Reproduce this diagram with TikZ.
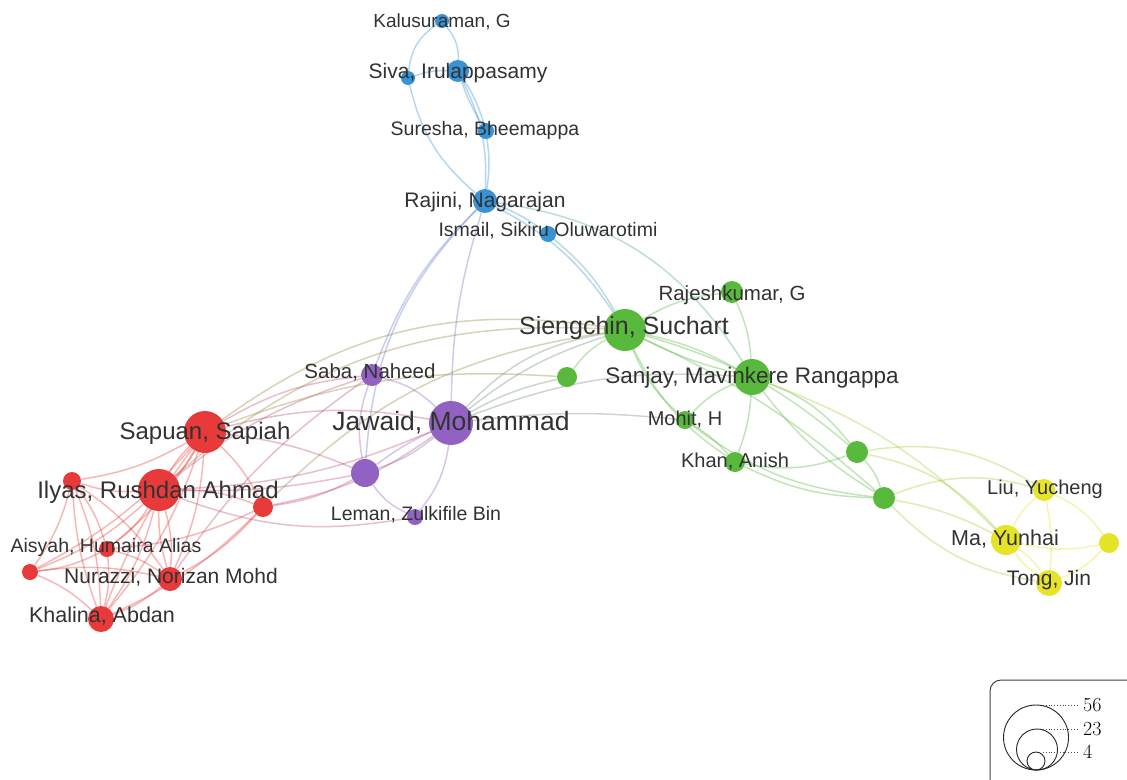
\documentclass[tikz,border=0pt]{standalone}
\usepackage{fontspec}
\newfontfamily\labfont{Liberation Sans}
\pgfdeclarelayer{bg}
\pgfdeclarelayer{edges}
\pgfsetlayers{bg,edges,main}
\definecolor{cred}{RGB}{232,58,58}
\definecolor{cgreen}{RGB}{88,185,60}
\definecolor{cblue}{RGB}{55,146,214}
\definecolor{cpurple}{RGB}{146,98,194}
\definecolor{cyellow}{RGB}{230,228,40}
\definecolor{ctext}{RGB}{50,50,50}
\colorlet{cpink}{cred!55!cpurple}
\colorlet{cteal}{cblue!50!cgreen}
\colorlet{cpg}{cpurple!50!cgreen}
\colorlet{crg}{cred!40!cgreen}
\colorlet{cbp}{cblue!50!cpurple}
\colorlet{cgy}{cgreen!50!cyellow}
\begin{document}
\begin{tikzpicture}[x=1pt,y=-1pt,
  nd/.style={circle,fill=#1,draw=none,inner sep=0pt},
  edge/.style={line width=1.5pt,draw=#1,draw opacity=0.36},
  lab/.style={inner sep=0pt,text=ctext,anchor=base},
  fs/.style={font=\labfont\fontsize{#1}{#1}\selectfont,yshift={-0.358*#1}},
  legcirc/.style={draw=black!85,line width=0.9pt},
  legdot/.style={draw=black!70,line width=0.8pt,dotted},
  legnum/.style={inner sep=0pt,anchor=west,font=\fontsize{20}{20}\selectfont}]
\useasboundingbox (0,0) rectangle (1127,779);
\begin{pgfonlayer}{bg}
\fill[white] (0,0) rectangle (1127,779);
\end{pgfonlayer}
% ---------- nodes ----------
% blue
\node[nd=cblue,minimum size=14] (kal) at (442,21) {};
\node[nd=cblue,minimum size=14] (siv) at (408,78) {};
\node[nd=cblue,minimum size=22] (iru) at (458,71) {};
\node[nd=cblue,minimum size=16] (sur) at (486,131) {};
\node[nd=cblue,minimum size=24] (raj) at (485,201) {};
\node[nd=cblue,minimum size=16] (ism) at (548,234) {};
% green
\node[nd=cgreen,minimum size=42] (sie) at (625,330) {};
\node[nd=cgreen,minimum size=22] (rjk) at (732,292) {};
\node[nd=cgreen,minimum size=20] (g1) at (567,377) {};
\node[nd=cgreen,minimum size=36] (san) at (752,377) {};
\node[nd=cgreen,minimum size=18] (moh) at (685,420) {};
\node[nd=cgreen,minimum size=20] (kan) at (735,462) {};
\node[nd=cgreen,minimum size=22] (g2) at (857,452) {};
\node[nd=cgreen,minimum size=22] (g3) at (884,498) {};
% yellow
\node[nd=cyellow,minimum size=22] (liu) at (1044,490) {};
\node[nd=cyellow,minimum size=30] (ma) at (1006,540) {};
\node[nd=cyellow,minimum size=26] (ton) at (1049,583) {};
\node[nd=cyellow,minimum size=20] (y4) at (1109,543) {};
% purple
\node[nd=cpurple,minimum size=22] (sab) at (372,375) {};
\node[nd=cpurple,minimum size=44] (jaw) at (451,423) {};
\node[nd=cpurple,minimum size=28] (p2) at (365,473) {};
\node[nd=cpurple,minimum size=16] (lem) at (415,517) {};
% red
\node[nd=cred,minimum size=42] (sap) at (205,432) {};
\node[nd=cred,minimum size=42] (ily) at (159,490) {};
\node[nd=cred,minimum size=18] (r1) at (72,481) {};
\node[nd=cred,minimum size=20] (r2) at (263,507) {};
\node[nd=cred,minimum size=16] (ais) at (107,549) {};
\node[nd=cred,minimum size=16] (r3) at (30,572) {};
\node[nd=cred,minimum size=24] (nur) at (170,579) {};
\node[nd=cred,minimum size=26] (kha) at (101,619) {};
% ---------- edges ----------
\begin{pgfonlayer}{edges}
% blue
\draw[edge=cblue] (kal) to[bend right=25] (siv);
\draw[edge=cblue] (kal) to[bend left=20] (iru);
\draw[edge=cblue] (siv) to[bend left=10] (iru);
\draw[edge=cblue] (siv) to[bend right=18] (raj);
\draw[edge=cblue] (iru) to[bend left=8] (sur);
\draw[edge=cblue] (iru) to[bend right=6] (sur);
\draw[edge=cblue] (iru) to[bend left=14] (raj);
\draw[edge=cblue] (sur) to[bend left=8] (raj);
\draw[edge=cblue] (raj) to[bend left=8] (ism);
\draw[edge=cblue] (raj) to[bend left=14] (sie);
\draw[edge=cteal] (ism) to[bend left=10] (sie);
\draw[edge=cbp] (raj) to[bend right=8] (jaw);
\draw[edge=cbp] (raj) to[bend right=12] (sab);
\draw[edge=cbp] (raj) to[bend right=20] (p2);
\draw[edge=cteal] (raj) to[bend left=25] (san);
% purple
\draw[edge=cpurple] (sab) to[bend left=15] (jaw);
\draw[edge=cpurple] (sab) to[bend right=15] (p2);
\draw[edge=cpurple] (jaw) to[bend left=10] (p2);
\draw[edge=cpurple] (jaw) to[bend right=6] (p2);
\draw[edge=cpurple] (jaw) to[bend left=15] (lem);
\draw[edge=cpurple] (p2) to[bend right=15] (lem);
\draw[edge=cpink] (sab) to[bend right=12] (sap);
\draw[edge=cpink] (sab) to[bend right=10] (ily);
\draw[edge=cpink] (sab) to[bend right=10] (nur);
\draw[edge=cpink] (jaw) to[bend right=12] (sap);
\draw[edge=cpink] (jaw) to[bend left=10] (ily);
\draw[edge=cpink] (jaw) to[bend left=12] (r2);
\draw[edge=cpink] (p2) to[bend right=8] (sap);
\draw[edge=cpink] (p2) to[bend left=6] (ily);
\draw[edge=cpink] (p2) to[bend left=10] (r2);
\draw[edge=cpink] (lem) to[bend left=15] (ily);
\draw[edge=cpg] (jaw) to[bend left=18] (sie);
\draw[edge=cpg] (jaw) to[bend left=10] (sie);
\draw[edge=cpg] (jaw) to[bend left=8] (g1);
\draw[edge=cpg] (jaw) to[bend left=12] (san);
\draw[edge=cpg] (jaw) to[bend left=6] (moh);
% red to green
\draw[edge=crg] (sap) to[bend left=22] (sie);
\draw[edge=crg] (ily) to[bend left=22] (sie);
\draw[edge=crg] (r2) to[bend left=18] (sie);
\draw[edge=crg] (sap) to[bend left=12] (g1);
% green
\draw[edge=cgreen] (sie) to[bend left=12] (rjk);
\draw[edge=cgreen] (sie) to[bend right=12] (g1);
\draw[edge=cgreen] (sie) to[bend left=8] (san);
\draw[edge=cgreen] (sie) to[bend right=6] (san);
\draw[edge=cgreen] (sie) to[bend right=12] (moh);
\draw[edge=cgreen] (sie) to[bend right=15] (kan);
\draw[edge=cgreen] (sie) to[bend left=12] (g2);
\draw[edge=cgreen] (sie) to[bend left=8] (g3);
\draw[edge=cgreen] (rjk) to[bend left=10] (san);
\draw[edge=cgreen] (san) to[bend right=12] (moh);
\draw[edge=cgreen] (san) to[bend left=8] (kan);
\draw[edge=cgreen] (san) to[bend left=15] (g2);
\draw[edge=cgreen] (san) to[bend right=10] (g3);
\draw[edge=cgreen] (moh) to[bend left=8] (kan);
\draw[edge=cgreen] (moh) to[bend right=15] (g3);
\draw[edge=cgreen] (kan) to[bend right=15] (g2);
\draw[edge=cgreen] (kan) to[bend right=12] (g3);
\draw[edge=cgreen] (g2) to[bend left=12] (g3);
\draw[edge=cgy] (g2) to[bend left=20] (liu);
\draw[edge=cgy] (g2) to[bend left=18] (ma);
\draw[edge=cgy] (g3) to[bend left=18] (liu);
\draw[edge=cgy] (g3) to[bend left=8] (ma);
\draw[edge=cgy] (g3) to[bend right=18] (ton);
\draw[edge=cgy] (san) to[bend left=12] (ma);
% yellow
\draw[edge=cyellow] (liu) to[bend right=10] (ma);
\draw[edge=cyellow] (liu) to[bend left=8] (ton);
\draw[edge=cyellow] (liu) to[bend left=15] (y4);
\draw[edge=cyellow] (ma) to[bend left=10] (ton);
\draw[edge=cyellow] (ma) to[bend right=10] (ton);
\draw[edge=cyellow] (ma) to[bend right=12] (y4);
\draw[edge=cyellow] (ton) to[bend right=12] (y4);
% red
\foreach \a/\b in {sap/ily,sap/r1,sap/r2,sap/ais,sap/nur,sap/kha,sap/r3,
  ily/r1,ily/r2,ily/ais,ily/nur,ily/kha,ily/r3,r1/ais,r1/nur,r1/kha,r1/r3,
  ais/r3,ais/nur,ais/kha,r3/nur,r3/kha,nur/kha,r2/nur,r2/kha,r2/ais}
  {\draw[edge=cred] (\a) to[bend left=10] (\b);}
\foreach \a/\b in {sap/ily,ily/nur,sap/kha,r1/kha}
  {\draw[edge=cred] (\a) to[bend right=8] (\b);}
\end{pgfonlayer}
% ---------- labels ----------
\node[lab,fs=19] (lkal) at (442,21) {Kalusuraman, G};
\node[lab,fs=21] (lsiv) at (458,71) {Siva, Irulappasamy};
\node[lab,fs=19.5] (lsur) at (485,129) {Suresha, Bheemappa};
\node[lab,fs=21] (lraj) at (485,200) {Rajini, Nagarajan};
\node[lab,fs=19.5] (lism) at (548,230) {Ismail, Sikiru Oluwarotimi};
\node[lab,fs=25] (lsie) at (624,326) {Siengchin, Suchart};
\node[lab,fs=20.5] (lrjk) at (732,293) {Rajeshkumar, G};
\node[lab,fs=22.5] (lsan) at (752,375) {Sanjay, Mavinkere Rangappa};
\node[lab,fs=20] (lmoh) at (685,418) {Mohit, H};
\node[lab,fs=20] (lkan) at (735,460) {Khan, Anish};
\node[lab,fs=20] (lliu) at (1045,487) {Liu, Yucheng};
\node[lab,fs=21.5] (lma) at (1005,538) {Ma, Yunhai};
\node[lab,fs=21] (lton) at (1049,578) {Tong, Jin};
\node[lab,fs=20.5] (lsab) at (370,371) {Saba, Naheed};
\node[lab,fs=26.5] (ljaw) at (451,421) {Jawaid, Mohammad};
\node[lab,fs=19.5] (llem) at (416,514) {Leman, Zulkifile Bin};
\node[lab,fs=24] (lsap) at (205,431) {Sapuan, Sapiah};
\node[lab,fs=24] (lily) at (158,490) {Ilyas, Rushdan Ahmad};
\node[lab,fs=19.5] (lais) at (106,546) {Aisyah, Humaira Alias};
\node[lab,fs=21] (lnur) at (171,576) {Nurazzi, Norizan Mohd};
\node[lab,fs=21.5] (lkha) at (102,615) {Khalina, Abdan};
% ---------- legend ----------
\begin{scope}
\clip (0,0) rectangle (1127,779);
\draw[black!75,line width=1pt,rounded corners=11pt] (990,680) rectangle (1160,800);
\end{scope}
\node[legcirc,circle,minimum size=65,inner sep=0pt] (c56) at (1036,737.5) {};
\node[legcirc,circle,minimum size=41,inner sep=0pt] (c23) at (1037,749.5) {};
\node[legcirc,circle,minimum size=18,inner sep=0pt] (c4) at (1036,761) {};
\coordinate (d56) at (1043,705);
\coordinate (d23) at (1043,729);
\coordinate (d4) at (1043,752);
\node[legnum] (n56) at (1083,705) {56};
\node[legnum] (n23) at (1083,729) {23};
\node[legnum] (n4) at (1083,752) {4};
\draw[legdot] (d56) -- ([xshift=-5pt]n56.west);
\draw[legdot] (d23) -- ([xshift=-5pt]n23.west);
\draw[legdot] (d4) -- ([xshift=-5pt]n4.west);
\end{tikzpicture}
\end{document}
